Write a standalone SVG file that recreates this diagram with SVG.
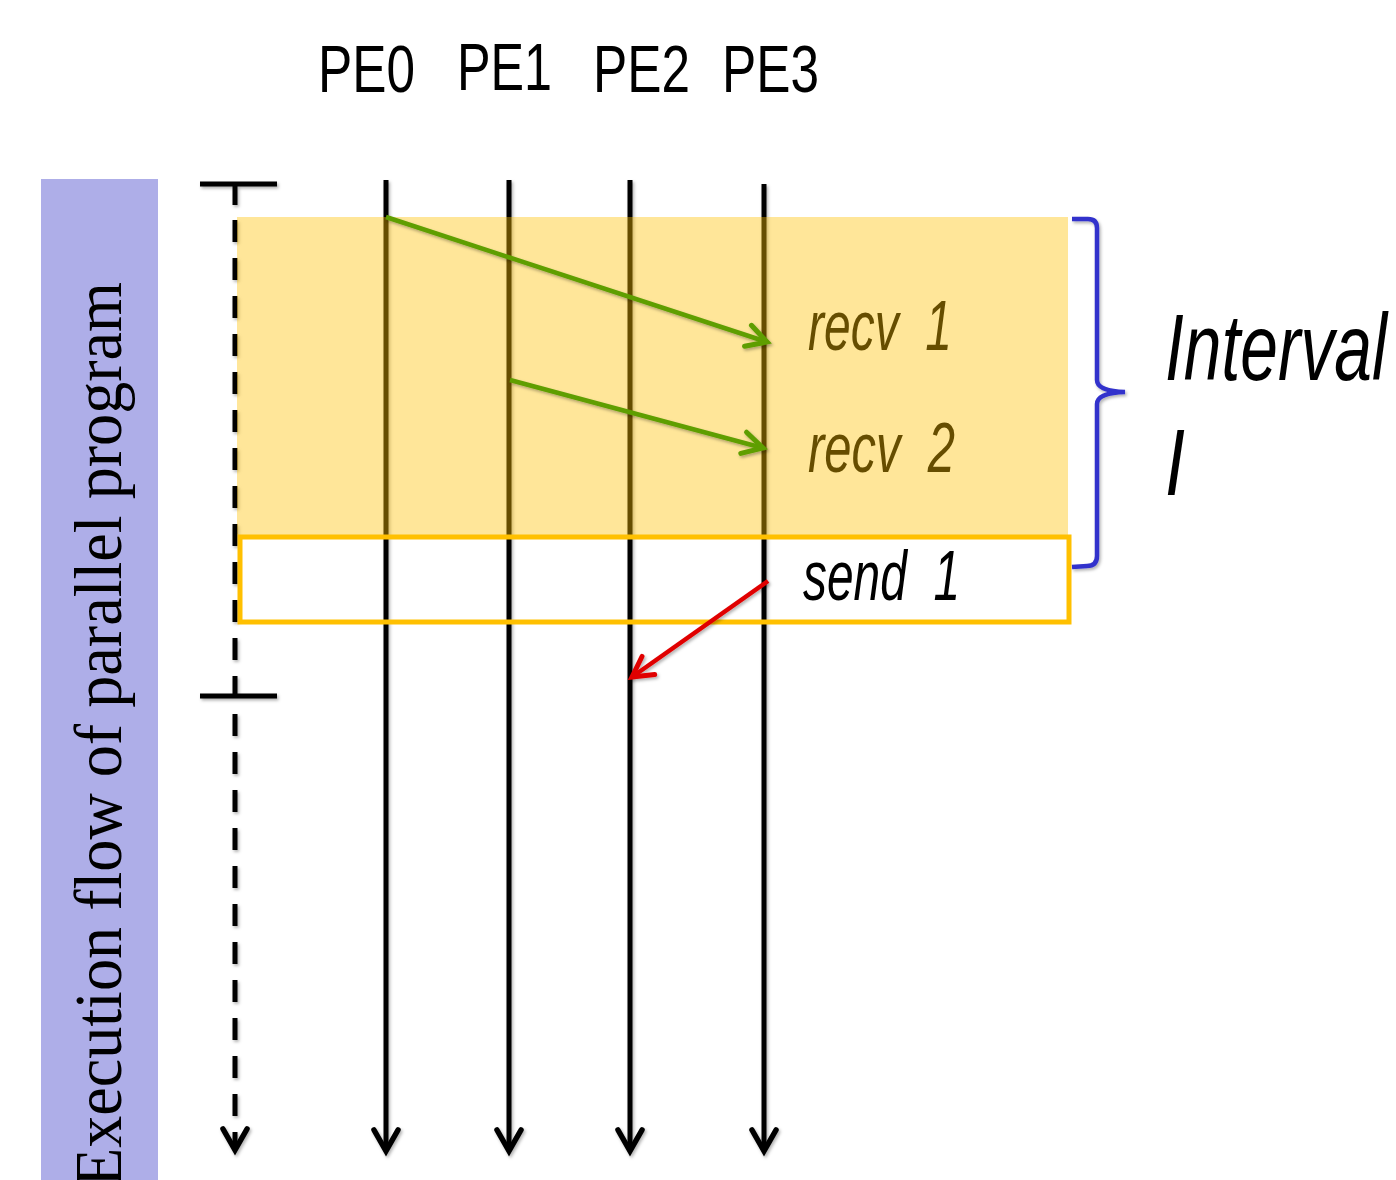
<svg xmlns="http://www.w3.org/2000/svg" width="1396" height="1180" viewBox="0 0 1396 1180">
<style>
.pe{font-family:"Liberation Sans",Arial,sans-serif;font-size:66px;fill:#000}
.lbl{font-family:"Liberation Sans",Arial,sans-serif;font-style:italic;font-size:70px}
.big{font-family:"Liberation Sans",Arial,sans-serif;font-style:italic;font-size:94px;fill:#000}
.tl{stroke:#000;stroke-width:5;fill:none}
</style>
<defs>
<filter id="sh" x="-20%" y="-20%" width="140%" height="140%">
<feDropShadow dx="1.5" dy="2" stdDeviation="1.5" flood-color="#000" flood-opacity="0.3"/>
</filter>
<marker id="ab" viewBox="-28 -18 34 36" refX="0" refY="0" markerWidth="34" markerHeight="36" markerUnits="userSpaceOnUse" orient="auto">
<path d="M-21,-12 L0,0 L-21,12" fill="none" stroke="#000" stroke-width="5.5" stroke-linecap="round"/>
</marker>
<marker id="ag" viewBox="-28 -18 34 36" refX="0" refY="0" markerWidth="34" markerHeight="36" markerUnits="userSpaceOnUse" orient="auto">
<path d="M-20,-11 L0,0 L-20,11" fill="none" stroke="#5E9E00" stroke-width="5" stroke-linecap="round"/>
</marker>
<marker id="ar" viewBox="-28 -18 34 36" refX="0" refY="0" markerWidth="34" markerHeight="36" markerUnits="userSpaceOnUse" orient="auto">
<path d="M-20,-11 L0,0 L-20,11" fill="none" stroke="#E00000" stroke-width="5" stroke-linecap="round"/>
</marker>
</defs>
<rect width="1396" height="1180" fill="#fff"/>

<g id="sidebar">
<rect x="41" y="179" width="117" height="1001" fill="#AEAEE8"/>
<text transform="translate(121,282) rotate(-90)" text-anchor="end" font-family="'Liberation Serif','Times New Roman',serif" font-size="68" fill="#000" textLength="905" lengthAdjust="spacingAndGlyphs">Execution flow of parallel program</text>
</g>

<g id="pe-labels">
<text class="pe" x="318" y="92" textLength="97" lengthAdjust="spacingAndGlyphs">PE0</text>
<text class="pe" x="457" y="90" textLength="95" lengthAdjust="spacingAndGlyphs">PE1</text>
<text class="pe" x="593" y="92" textLength="97" lengthAdjust="spacingAndGlyphs">PE2</text>
<text class="pe" x="722" y="92" textLength="97" lengthAdjust="spacingAndGlyphs">PE3</text>
</g>

<g id="send-box">
<rect x="240" y="537" width="829" height="85" fill="#fff"/>
</g>

<g id="connectors" filter="url(#sh)">
<g id="timeline-axis">
<line x1="200" y1="184" x2="277" y2="184" class="tl"/>
<line x1="235" y1="184" x2="235" y2="205" class="tl"/>
<line x1="235" y1="220" x2="235" y2="1150" stroke="#000" stroke-width="5" stroke-dasharray="22 16" marker-end="url(#ab)"/>
<line x1="200" y1="696" x2="277" y2="696" class="tl"/>
</g>
<line id="pe0-line" x1="386" y1="180" x2="386" y2="1151" class="tl" marker-end="url(#ab)"/>
<line id="pe1-line" x1="509" y1="180" x2="509" y2="1151" class="tl" marker-end="url(#ab)"/>
<line id="pe2-line" x1="630" y1="180" x2="630" y2="1151" class="tl" marker-end="url(#ab)"/>
<line id="pe3-line" x1="764" y1="184" x2="764" y2="1151" class="tl" marker-end="url(#ab)"/>
</g>

<g id="recv-labels">
<text class="lbl" x="808" y="350" fill="#000" textLength="144" lengthAdjust="spacingAndGlyphs">recv&#160;&#160;1</text>
<text class="lbl" x="808" y="472" fill="#000" textLength="147" lengthAdjust="spacingAndGlyphs">recv&#160;&#160;2</text>
</g>

<g id="interval-region">
<rect x="237" y="217" width="831" height="318" fill="#FFC000" fill-opacity="0.4"/>
</g>

<g id="send-box-border">
<rect x="240" y="537" width="829" height="85" fill="none" stroke="#FFC000" stroke-width="5"/>
<text class="lbl" x="803" y="600" fill="#000" textLength="157" lengthAdjust="spacingAndGlyphs">send&#160;&#160;1</text>
</g>

<g id="messages" filter="url(#sh)">
<line id="msg-recv1" x1="386" y1="217" x2="767" y2="342" stroke="#5E9E00" stroke-width="4.5" marker-end="url(#ag)"/>
<line id="msg-recv2" x1="510" y1="380" x2="763" y2="448" stroke="#5E9E00" stroke-width="4.5" marker-end="url(#ag)"/>
<line id="msg-send1" x1="768" y1="581" x2="632" y2="677" stroke="#E00000" stroke-width="4.5" marker-end="url(#ar)"/>
</g>

<g id="interval-brace" filter="url(#sh)">
<path d="M1072,219 L1088,219 Q1097,219 1097,228 L1097,380 Q1097,391 1125,392 Q1097,393 1097,404 L1097,556 Q1097,566 1087,566 L1072,567" fill="none" stroke="#3333CC" stroke-width="4.5"/>
</g>

<g id="interval-label">
<text class="big" x="1165" y="380" textLength="222" lengthAdjust="spacingAndGlyphs">Interval</text>
<text class="big" x="1165" y="495" textLength="20" lengthAdjust="spacingAndGlyphs">I</text>
</g>
</svg>
